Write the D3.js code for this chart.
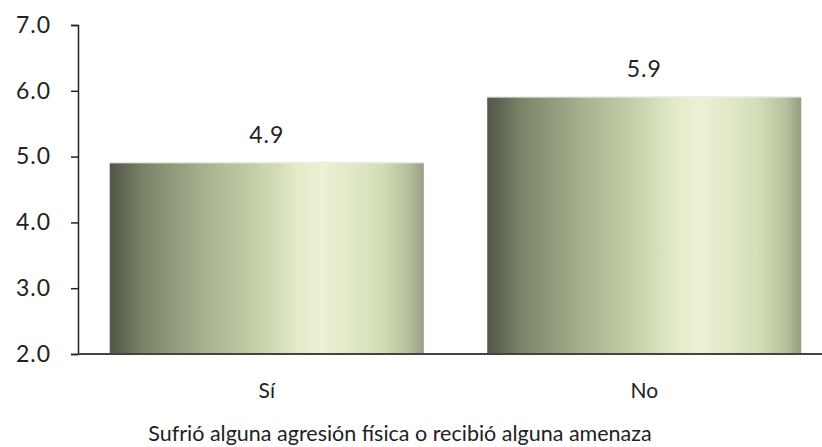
<!DOCTYPE html>
<html>
<head>
  <meta charset="utf-8">
  <script src="https://d3js.org/d3.v7.min.js"></script>
  <style>
    body { margin: 0; background: #fff; font-family: Lato, "Noto Sans", sans-serif; }
    .tick text { font-size: 23px; fill: #222; letter-spacing: 1px; }
    .bar-label { font-size: 23px; fill: #222; text-anchor: middle; letter-spacing: 1px; }
    .cat-label { font-size: 21px; fill: #222; text-anchor: middle; }
    .axis-title { font-size: 21.5px; fill: #222; text-anchor: middle; }
  </style>
</head>
<body>
  <svg id="chart"></svg>
  <script>
    const categories = ["Sí", "No"];
    const values = [4.9, 5.9];
    const yTicks = [2, 3, 4, 5, 6, 7];
    const xTitle = "Sufrió alguna agresión física o recibió alguna amenaza";

    const width = 822;
    const height = 447;

    const svg = d3.select("#chart")
      .attr("width", width)
      .attr("height", height);

    // bar gradient (dark olive -> pale cream -> olive)
    const grad = svg.append("defs")
      .append("linearGradient")
      .attr("id", "barGrad")
      .attr("x1", "0%").attr("x2", "100%")
      .attr("y1", "0%").attr("y2", "0%");
    [
      [0, "#52574a"], [0.03, "#5c6250"], [0.11, "#7b8468"], [0.29, "#a4af8d"],
      [0.46, "#c3cea8"], [0.6, "#e3ebc9"], [0.68, "#ecf2d5"], [0.86, "#d4deb9"],
      [0.95, "#b6c19c"], [1, "#959e82"]
    ].forEach(([o, c]) => grad.append("stop").attr("offset", o).attr("stop-color", c));

    const x = d3.scaleBand()
      .domain(categories)
      .range([78, 833])
      .paddingInner(0.168)
      .paddingOuter(0.084);

    const y = d3.scaleLinear()
      .domain([2, 7])
      .range([354, 25]);

    // bars
    svg.selectAll("rect.bar")
      .data(categories)
      .enter()
      .append("rect")
      .attr("class", "bar")
      .attr("x", d => x(d))
      .attr("width", x.bandwidth())
      .attr("y", (d, i) => y(values[i]))
      .attr("height", (d, i) => y(2) - y(values[i]))
      .attr("fill", "url(#barGrad)");

    // thin light top edge
    svg.selectAll("line.top")
      .data(categories)
      .enter()
      .append("line")
      .attr("x1", d => x(d))
      .attr("x2", d => x(d) + x.bandwidth())
      .attr("y1", (d, i) => y(values[i]) - 0.5)
      .attr("y2", (d, i) => y(values[i]) - 0.5)
      .attr("stroke", "#e4e4e0")
      .attr("stroke-width", 1);

    // value labels
    svg.selectAll("text.bar-label")
      .data(categories)
      .enter()
      .append("text")
      .attr("class", "bar-label")
      .attr("x", d => x(d) + x.bandwidth() / 2)
      .attr("y", (d, i) => y(values[i]) - 20)
      .text((d, i) => values[i].toFixed(1));

    // y axis
    const yAxis = svg.append("g")
      .attr("transform", "translate(78,0)")
      .call(d3.axisLeft(y).tickValues(yTicks).tickFormat(d3.format(".1f")).tickSize(7).tickPadding(20));
    yAxis.attr("font-family", null).attr("font-size", null);
    yAxis.select(".domain").attr("stroke", "#222").attr("stroke-width", 1.5);
    yAxis.selectAll(".tick line").attr("stroke", "#222").attr("stroke-width", 1.5);

    // x baseline
    svg.append("line")
      .attr("x1", 78).attr("x2", width)
      .attr("y1", y(2)).attr("y2", y(2))
      .attr("stroke", "#444").attr("stroke-width", 2);

    // category labels
    svg.selectAll("text.cat-label")
      .data(categories)
      .enter()
      .append("text")
      .attr("class", "cat-label")
      .attr("x", d => x(d) + x.bandwidth() / 2)
      .attr("y", 398)
      .text(d => d);

    svg.append("text")
      .attr("class", "axis-title")
      .attr("x", 400)
      .attr("y", 441)
      .text(xTitle);
  </script>
</body>
</html>
